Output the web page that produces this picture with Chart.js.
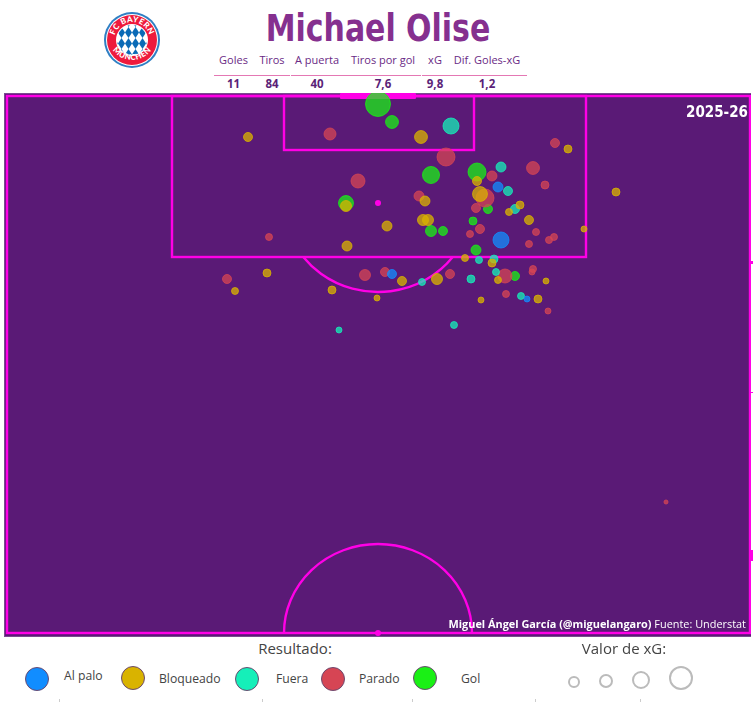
<!DOCTYPE html>
<html>
<head>
<meta charset="utf-8">
<title>Michael Olise</title>
<script src="https://cdn.jsdelivr.net/npm/chart.js@4/dist/chart.umd.js"></script>
<style>
  html, body { margin: 0; padding: 0; background: #fff; overflow: hidden; }
  body { width: 756px; height: 702px; position: relative; font-family: "Open Sans", sans-serif; }
  .abs { position: absolute; white-space: nowrap; line-height: 1; }
  .c { transform: translateX(-50%); }
  #title { left: 378px; top: 7px; font: 700 37px "DejaVu Sans", sans-serif; font-stretch: condensed; color: #85308f; transform: translateX(-50%) scaleX(0.9); }
  .stat { top: 54px; font-size: 11px; color: #6a2a85; }
  .val { top: 78px; font-size: 11.5px; font-weight: 700; color: #5b1f78; }
  .rule { top: 74.5px; height: 1.5px; background: #e478b4; }
  #chart { position: absolute; left: 4px; top: 93px; }
  #season { right: 8px; top: 103px; font: 700 15px "DejaVu Sans", sans-serif; font-stretch: condensed; color: #fff; }
  #credit { right: 10px; top: 619px; font-size: 10.9px; color: #fff; }
  #credit b { font-weight: 700; }
  .head { top: 641px; font-size: 15px; color: #444; }
  .lab { font-size: 12.2px; color: #444; }
  .dot { position: absolute; box-sizing: border-box; border-radius: 50%; border: 1px solid #6b4a70; }
  .ring { position: absolute; box-sizing: border-box; border-radius: 50%; border: 2.5px solid #bbb; }
  .tick { position: absolute; top: 699px; width: 1px; height: 3px; background: #ccc; }
  .nub { position: absolute; left: 749px; width: 4px; background: #ff00e6; }
</style>
</head>
<body>
<svg class="abs" style="left:102px;top:10px" width="60" height="60" viewBox="-30 -30 60 60">
  <defs>
    <pattern id="rauten" width="7" height="11" patternUnits="userSpaceOnUse" patternTransform="translate(0 -2)">
      <rect width="7" height="11" fill="#fff"/>
      <path d="M3.5 0L7 5.5L3.5 11L0 5.5Z" fill="#0a6ab6"/>
    </pattern>
    <path id="arcTop" d="M-16.5 7.2A18 18 0 1 1 16.5 7.2"/>
    <path id="arcBot" d="M-24 -2A24.1 24.1 0 0 0 24 -2"/>
  </defs>
  <circle r="28" fill="#2f7fc4"/>
  <circle r="26" fill="#fff"/>
  <circle r="25" fill="#ee1a3c"/>
  <circle r="16" fill="#fff"/>
  <circle r="15" fill="url(#rauten)"/>
  <text font-family="Lato" font-weight="900" font-size="8" fill="#fff" letter-spacing=".4" text-anchor="middle"><textPath href="#arcTop" startOffset="50%">FC BAYERN</textPath></text>
  <text font-family="Lato" font-weight="900" font-size="8" fill="#fff" letter-spacing=".4" text-anchor="middle"><textPath href="#arcBot" startOffset="50%">MÜNCHEN</textPath></text>
</svg>

<div id="title" class="abs">Michael Olise</div>
<div id="stats"></div>

<canvas id="chart" width="747" height="544"></canvas>
<div class="nub" style="top:261px;height:3px"></div>
<div class="nub" style="top:392px;height:1px"></div>
<div class="nub" style="top:550px;height:11px"></div>
<div id="season" class="abs">2025-26</div>
<div id="credit" class="abs"><b>Miguel Ángel García (@miguelangaro)</b> Fuente: Understat</div>

<div class="abs c head" style="left:295px">Resultado:</div>
<div class="abs c head" style="left:624px">Valor de xG:</div>
<div id="legend"></div>

<script>
// Cabecera
const statLabels = ['Goles', 'Tiros', 'A puerta', 'Tiros por gol', 'xG', 'Dif. Goles-xG'];
const statValues = ['11', '84', '40', '7,6', '9,8', '1,2'];

// Tiros por resultado: x = lateral desde el centro de la porteria, y = distancia a la linea de gol
const alPaloX = [1.4, 14.9, 12.0, 12.3];
const alPaloY = [17.8, 20.3, 9.1, 14.4];
const alPaloXg = [0.098, 0.043, 0.12, 0.31];

const bloqueadoX = [4.3, -3.2, 4.7, 4.5, 5.0, 0.9, -3.1, -13.0, 23.8, 10.2, 9.9, 19.0, 14.2, 13.1, 15.1, 20.6, 8.7, -11.1, -14.3, -4.6, -0.1, 2.4, 5.9, 11.4, 12.0, 16.8, 10.3, 16.0];
const bloqueadoY = [4.1, 11.0, 10.5, 12.4, 12.4, 13.0, 15.0, 4.1, 9.6, 9.8, 8.5, 5.3, 10.9, 11.6, 12.4, 13.3, 16.2, 17.7, 19.5, 19.4, 20.2, 18.5, 18.3, 16.7, 18.4, 18.5, 20.4, 20.3];
const bloqueadoXg = [0.2, 0.146, 0.12, 0.146, 0.146, 0.12, 0.12, 0.098, 0.077, 0.27, 0.098, 0.077, 0.077, 0.059, 0.098, 0.043, 0.059, 0.077, 0.059, 0.077, 0.043, 0.098, 0.146, 0.077, 0.059, 0.043, 0.043, 0.077];

const fueraX = [7.3, 12.3, 13.0, 13.7, -3.9, 4.4, 10.1, 11.6, 11.8, 9.3, 14.3, 7.6];
const fueraY = [3.0, 7.1, 9.5, 11.3, 23.4, 18.6, 16.4, 16.3, 17.6, 18.3, 20.0, 22.9];
const fueraXg = [0.31, 0.12, 0.098, 0.098, 0.043, 0.059, 0.059, 0.077, 0.059, 0.077, 0.059, 0.059];

const paradoX = [-4.8, 6.8, -2.0, 4.1, -10.9, 15.5, 17.7, 11.4, 16.7, 9.8, 10.7, 10.2, 9.2, 15.8, 17.6, 17.1, 15.1, -15.1, -1.3, 0.7, 7.2, 12.7, 15.5, 15.4, 12.8, 17.0, 28.8];
const paradoY = [3.8, 6.1, 8.5, 10.0, 14.1, 7.2, 4.7, 8.0, 8.9, 11.2, 10.2, 13.3, 13.8, 13.6, 14.1, 14.4, 14.8, 18.3, 17.9, 17.6, 17.8, 18.0, 17.3, 17.6, 19.8, 21.5, 40.6];
const paradoXg = [0.174, 0.39, 0.236, 0.12, 0.059, 0.2, 0.098, 0.12, 0.077, 0.098, 0.39, 0.098, 0.059, 0.059, 0.059, 0.059, 0.059, 0.098, 0.146, 0.098, 0.098, 0.236, 0.059, 0.043, 0.059, 0.043, 0.02];

const golX = [0.0, 1.4, 5.3, -3.2, 5.3, 6.5, 9.9, 11.0, 9.5, 9.8, 13.7];
const golY = [0.8, 2.6, 7.9, 10.7, 13.5, 13.5, 7.6, 11.3, 12.5, 15.4, 18.0];
const golXg = [0.75, 0.2, 0.35, 0.27, 0.146, 0.098, 0.39, 0.098, 0.077, 0.12, 0.098];

// Leyenda
const resultNames = ['Al palo', 'Bloqueado', 'Fuera', 'Parado', 'Gol'];
const xgLegend = [0.17, 0.24, 0.39, 0.7];

const colours = { 'Al palo': '#118DFF', 'Bloqueado': '#D9B300', 'Fuera': '#15EFB9', 'Parado': '#D64554', 'Gol': '#1AF015' };
const lineColour = '#ff00e6';
const pitchColour = '#5a1a76';

// area proporcional al xG, como en el original
const radiusOf = xg => 14.4 * Math.sqrt(xg);

function points(xs, ys, xgs) {
    return xs.map((x, i) => ({ x: x, y: ys[i], r: radiusOf(xgs[i]) }));
}

function alpha(hex, a) {
    const n = parseInt(hex.slice(1), 16);
    return `rgba(${n >> 16}, ${(n >> 8) & 255}, ${n & 255}, ${a})`;
}

function shots(name, data, order) {
    return { label: name, data: data, order: order, backgroundColor: alpha(colours[name], 0.75), borderColor: alpha(colours[name], 0.75), borderWidth: 1 };
}

// Lineas del campo, en las mismas unidades que los tiros
const pitchLines = {
    id: 'pitchLines',
    beforeDatasetsDraw(chart) {
        const ctx = chart.ctx, sx = chart.scales.x, sy = chart.scales.y;
        const px = v => sx.getPixelForValue(v), py = v => sy.getPixelForValue(v);
        const box = (x0, x1, y1) => ctx.strokeRect(px(x0), py(0), px(x1) - px(x0), py(y1) - py(0));
        const unit = px(1) - px(0);
        ctx.save();
        ctx.fillStyle = pitchColour;
        ctx.fillRect(0, 0, chart.width, chart.height);
        ctx.strokeStyle = '#7a4a90';
        ctx.lineWidth = 1;
        ctx.strokeRect(0.5, 0.5, chart.width + 1, chart.height - 1);
        ctx.strokeStyle = lineColour;
        ctx.lineWidth = 2.4;
        box(-37.1, 37.2, 53.7);
        box(-20.6, 20.8, 16.1);
        box(-9.4, 9.6, 5.4);
        // semicirculo del area y circulo central
        const cut = Math.asin(5.4 / 8.9);
        ctx.beginPath();
        ctx.ellipse(px(0), py(10.7), 9.4 * unit, 8.9 * unit, 0, cut, Math.PI - cut);
        ctx.stroke();
        ctx.beginPath();
        ctx.ellipse(px(0), py(53.7), 9.4 * unit, 8.9 * unit, 0, Math.PI, 2 * Math.PI);
        ctx.stroke();
        // puntos de penalti y centro
        ctx.fillStyle = lineColour;
        [[0, 10.7], [0, 53.7]].forEach(p => {
            ctx.beginPath();
            ctx.arc(px(p[0]), py(p[1]), 3, 0, 2 * Math.PI);
            ctx.fill();
        });
        // porteria
        ctx.beginPath();
        ctx.roundRect(px(-3.8), 0, 7.6 * unit, 6, 1);
        ctx.fill();
        ctx.restore();
    }
};

new Chart(document.getElementById('chart'), {
    type: 'bubble',
    data: {
        datasets: [
            shots('Al palo', points(alPaloX, alPaloY, alPaloXg), 1),
            shots('Bloqueado', points(bloqueadoX, bloqueadoY, bloqueadoXg), 2),
            shots('Fuera', points(fueraX, fueraY, fueraXg), 3),
            shots('Parado', points(paradoX, paradoY, paradoXg), 4),
            shots('Gol', points(golX, golY, golXg), 5)
        ]
    },
    options: {
        responsive: false,
        animation: false,
        layout: { padding: 0, autoPadding: false },
        scales: {
            x: { type: 'linear', display: false, min: -37.4, max: 37.3 },
            y: { type: 'linear', display: false, min: -0.3, max: 54.1, reverse: true }
        },
        plugins: { legend: { display: false }, tooltip: { enabled: false } }
    },
    plugins: [pitchLines]
});

// Cabecera y leyenda en HTML
const statsEl = document.getElementById('stats');
const statCentres = [233.5, 272, 317, 383, 435, 487];
statLabels.forEach((label, i) => {
    statsEl.insertAdjacentHTML('beforeend',
        `<div class="abs c stat" style="left:${statCentres[i]}px">${label}</div>` +
        `<div class="abs c val" style="left:${statCentres[i]}px">${statValues[i]}</div>`);
});
[[214, 76], [291, 130], [422, 105]].forEach(r => {
    statsEl.insertAdjacentHTML('beforeend', `<div class="abs rule" style="left:${r[0]}px;width:${r[1]}px"></div>`);
});

const legendEl = document.getElementById('legend');
const dotX = [37, 133, 247, 333, 425];
const dotY = [679, 678, 679, 679, 678];
const labelX = [64, 159, 276, 359, 461];
const labelY = [670, 673, 673, 673, 673];
resultNames.forEach((name, i) => {
    legendEl.insertAdjacentHTML('beforeend',
        `<div class="dot" style="left:${dotX[i] - 12}px;top:${dotY[i] - 12}px;width:24px;height:24px;background:${colours[name]}"></div>` +
        `<div class="abs lab" style="left:${labelX[i]}px;top:${labelY[i]}px">${name}</div>`);
});
const ringX = [574, 606, 641, 681];
const ringY = [682, 681, 680, 678];
xgLegend.forEach((xg, i) => {
    const r = radiusOf(xg);
    legendEl.insertAdjacentHTML('beforeend',
        `<div class="ring" style="left:${ringX[i] - r}px;top:${ringY[i] - r}px;width:${2 * r}px;height:${2 * r}px"></div>`);
});
[59, 262, 412, 535, 640].forEach(x => {
    legendEl.insertAdjacentHTML('beforeend', `<div class="tick" style="left:${x}px"></div>`);
});
</script>
</body>
</html>
